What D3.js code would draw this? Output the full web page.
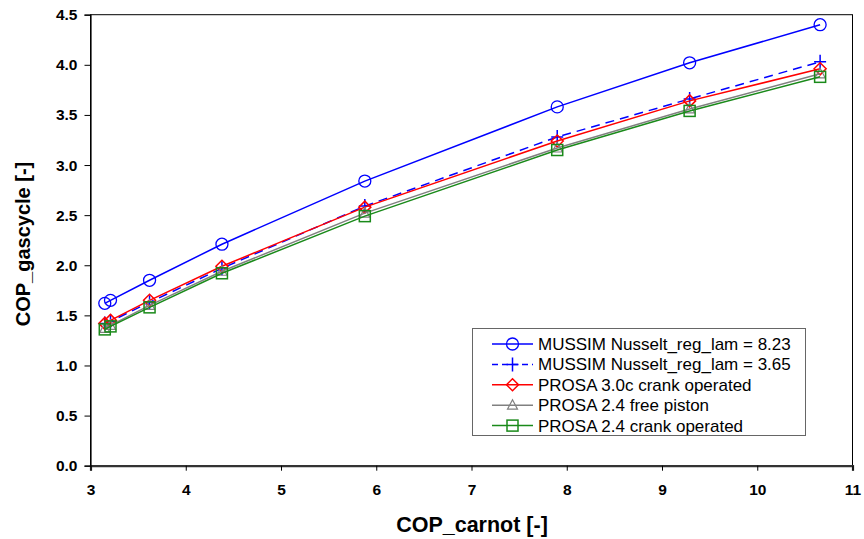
<!DOCTYPE html>
<html>
<head>
<meta charset="utf-8">
<script src="https://cdn.jsdelivr.net/npm/d3@7"></script>
<style>
  html, body { margin: 0; padding: 0; background: #fff; }
  svg { display: block; font-family: "Liberation Sans", Arial, sans-serif; }
</style>
</head>
<body>
<svg id="chart" width="864" height="539"></svg>
<script>
// COP of the gas cycle against Carnot COP for several simulation models
const copCarnot = [3.15, 3.21, 3.62, 4.38, 5.88, 7.9, 9.29, 10.66];

const mussim823 = [1.62, 1.65, 1.85, 2.21, 2.84, 3.58, 4.02, 4.40];
const mussim365 = [1.42, 1.44, 1.63, 1.97, 2.59, 3.28, 3.66, 4.03];
const prosa30c  = [1.42, 1.45, 1.65, 1.99, 2.58, 3.24, 3.64, 3.96];
const prosa24fp = [1.37, 1.40, 1.60, 1.94, 2.52, 3.17, 3.56, 3.91];
const prosa24cr = [1.36, 1.39, 1.58, 1.92, 2.49, 3.15, 3.54, 3.88];

const seriesNames = [
  "MUSSIM Nusselt_reg_lam = 8.23",
  "MUSSIM Nusselt_reg_lam = 3.65",
  "PROSA 3.0c crank operated",
  "PROSA 2.4 free piston",
  "PROSA 2.4 crank operated"
];

const xTicks = [3, 4, 5, 6, 7, 8, 9, 10, 11];
const yTicks = [0, 0.5, 1, 1.5, 2, 2.5, 3, 3.5, 4, 4.5];

const series = [
  { name: seriesNames[0], values: mussim823, color: "#0000ff", dash: null, marker: "circle" },
  { name: seriesNames[1], values: mussim365, color: "#0000ff", dash: "9,6", marker: "plus" },
  { name: seriesNames[2], values: prosa30c,  color: "#ff0000", dash: null, marker: "diamond" },
  { name: seriesNames[3], values: prosa24fp, color: "#808080", dash: null, marker: "triangle" },
  { name: seriesNames[4], values: prosa24cr, color: "#1a8a1a", dash: null, marker: "square" }
];

const svg = d3.select("#chart");
const plotL = 90.5, plotR = 852.5, plotT = 14.7, plotB = 465.7;

const x = d3.scaleLinear().domain([3, 11]).range([plotL, plotR]);
const y = d3.scaleLinear().domain([0, 4.5]).range([plotB, plotT]);

// frame
svg.append("rect")
  .attr("x", plotL).attr("y", plotT)
  .attr("width", plotR - plotL).attr("height", plotB - plotT)
  .attr("fill", "none").attr("stroke", "#000").attr("stroke-width", 1);

// axes
const xAxis = svg.append("g").attr("transform", `translate(0,${plotB})`)
  .call(d3.axisBottom(x).tickValues(xTicks).tickFormat(d3.format("d")).tickSizeOuter(0).tickSize(5).tickPadding(13));
const yAxis = svg.append("g").attr("transform", `translate(${plotL},0)`)
  .call(d3.axisLeft(y).tickValues(yTicks).tickFormat(d3.format(".1f")).tickSizeOuter(0).tickSize(6).tickPadding(7));

[xAxis, yAxis].forEach(g => {
  g.selectAll("text").attr("font-size", 15.5).attr("font-weight", "bold").attr("fill", "#000")
    .attr("font-family", "'Liberation Sans', Arial, sans-serif");
  g.selectAll("line").attr("stroke", "#000");
});
xAxis.select(".domain").attr("stroke", "#333").attr("stroke-width", 2.2);
yAxis.select(".domain").attr("stroke", "#000").attr("stroke-width", 1.2);

// axis titles
svg.append("text")
  .attr("x", 472).attr("y", 532)
  .attr("text-anchor", "middle").attr("font-size", 21.5).attr("font-weight", "bold")
  .text("COP_carnot [-]");
svg.append("text")
  .attr("transform", `translate(30,244) rotate(-90)`)
  .attr("text-anchor", "middle").attr("font-size", 20).attr("font-weight", "bold")
  .text("COP_gascycle [-]");

function drawMarker(g, type, color) {
  if (type === "circle") {
    g.append("circle").attr("r", 6).attr("fill", "none").attr("stroke", color).attr("stroke-width", 1.3);
  } else if (type === "plus") {
    g.append("path").attr("d", "M-6,0H6M0,-7V7").attr("stroke", color).attr("stroke-width", 1.5).attr("fill", "none");
  } else if (type === "diamond") {
    g.append("path").attr("d", "M0,-6L6,0L0,6L-6,0Z").attr("stroke", color).attr("stroke-width", 1.5).attr("fill", "none");
  } else if (type === "triangle") {
    g.append("path").attr("d", "M0,-5.5L5,4L-5,4Z").attr("stroke", color).attr("stroke-width", 1.2).attr("fill", "none");
  } else if (type === "square") {
    g.append("rect").attr("x", -5.5).attr("y", -5.5).attr("width", 11).attr("height", 11)
      .attr("stroke", color).attr("stroke-width", 1.5).attr("fill", "none");
  }
}

const line = d3.line().x(d => x(d[0])).y(d => y(d[1]));

series.forEach(s => {
  const pts = copCarnot.map((c, i) => [c, s.values[i]]);
  svg.append("path").datum(pts)
    .attr("d", line)
    .attr("fill", "none").attr("stroke", s.color).attr("stroke-width", 1.5)
    .attr("stroke-dasharray", s.dash);
  svg.append("g").selectAll("g").data(pts).join("g")
    .attr("transform", d => `translate(${x(d[0])},${y(d[1])})`)
    .each(function () { drawMarker(d3.select(this), s.marker, s.color); });
});

// legend
const lg = svg.append("g");
lg.append("rect").attr("x", 472.5).attr("y", 328.5).attr("width", 333).attr("height", 107)
  .attr("fill", "#fff").attr("stroke", "#666").attr("stroke-width", 1);
series.forEach((s, i) => {
  const cy = 344 + i * 20.4;
  const row = lg.append("g");
  row.append("line").attr("x1", 492).attr("x2", 533).attr("y1", cy).attr("y2", cy)
    .attr("stroke", s.color).attr("stroke-width", 1.5)
    .attr("stroke-dasharray", s.dash ? "6,4" : null);
  drawMarker(row.append("g").attr("transform", `translate(512.5,${cy})`), s.marker, s.color);
  row.append("text").attr("x", 538).attr("y", cy + 6).attr("font-size", 17).attr("fill", "#000")
    .text(s.name);
});
</script>
</body>
</html>
